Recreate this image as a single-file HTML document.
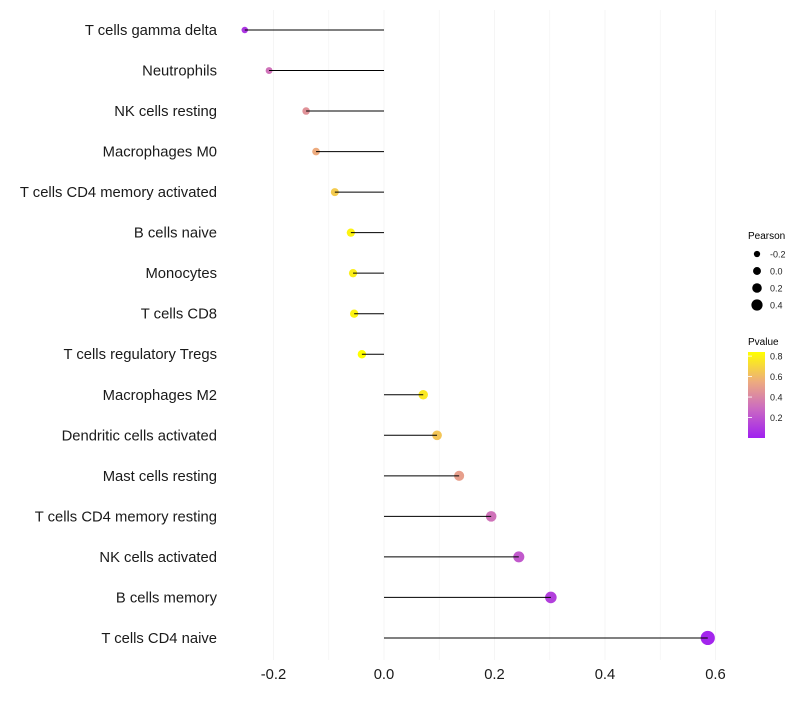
<!DOCTYPE html>
<html><head><meta charset="utf-8"><style>
body{margin:0;background:#fff;font-family:"Liberation Sans",sans-serif}
</style></head><body>
<svg id="c" width="800" height="700" xmlns="http://www.w3.org/2000/svg" font-family="Liberation Sans, sans-serif">
<defs><linearGradient id="pg" x1="0" y1="1" x2="0" y2="0">
<stop offset="0" stop-color="#A020F0"/><stop offset="0.35" stop-color="#CC6CC0"/><stop offset="0.65" stop-color="#EDAA80"/><stop offset="1" stop-color="#FFFF00"/></linearGradient></defs>
<g id="grid"></g>
<g id="marks"></g>
<g id="ylab"></g>
<g id="xlab"></g>
<g>
<text x="748" y="239" font-size="10">Pearson</text>
<g id="sizeleg"></g>
</g>
<g>
<text x="748" y="345" font-size="10">Pvalue</text>
<rect x="748" y="352" width="17" height="86" fill="url(#pg)"/>
<g id="colleg"></g>
</g>
</svg>
<script>
const categories=["T cells gamma delta","Neutrophils","NK cells resting","Macrophages M0","T cells CD4 memory activated","B cells naive","Monocytes","T cells CD8","T cells regulatory  Tregs","Macrophages M2","Dendritic cells activated","Mast cells resting","T cells CD4 memory resting","NK cells activated","B cells memory","T cells CD4 naive"];
const pearson=[-0.252,-0.208,-0.141,-0.123,-0.089,-0.060,-0.056,-0.054,-0.040,0.071,0.096,0.136,0.194,0.244,0.302,0.586];
const pvalue=[0.08,0.32,0.45,0.55,0.66,0.80,0.78,0.80,0.85,0.76,0.64,0.50,0.32,0.22,0.12,0.02];
const xTicks=[-0.2,0,0.2,0.4,0.6];
const xTickLabels=["-0.2","0.0","0.2","0.4","0.6"];
const sizeLegend=[-0.2,0.0,0.2,0.4];
const colorLegend=[0.2,0.4,0.6,0.8];
const NS="http://www.w3.org/2000/svg";
const x=v=>384+v*552.5;
const y=i=>30+i*40.53;
const r=v=>4.4+4.6*v;
const pMin=0.0,pMax=0.84;
const stops=[[0,[160,32,240]],[0.35,[204,108,192]],[0.65,[237,170,128]],[1,[255,255,0]]];
function col(p){let t=Math.max(0,Math.min(1,(p-pMin)/(pMax-pMin)));for(let k=1;k<stops.length;k++){if(t<=stops[k][0]){const a=stops[k-1],b=stops[k];const u=(t-a[0])/(b[0]-a[0]);const c=a[1].map((q,j)=>Math.round(q+(b[1][j]-q)*u));return `rgb(${c})`;}}return "rgb(255,255,0)";}
function mk(tag,at,parent){const e=document.createElementNS(NS,tag);for(const k in at)e.setAttribute(k,at[k]);document.getElementById(parent).appendChild(e);return e;}
for(let v=-0.2;v<=0.61;v+=0.1){const g=mk("line",{x1:x(v),x2:x(v),y1:10,y2:660,stroke:"#f3f3f3","stroke-width":0.8},"grid");

}
categories.forEach((c,i)=>{
const p=mk("circle",{cx:x(pearson[i]),cy:y(i),r:r(pearson[i]),fill:col(pvalue[i])},"marks");


const s=mk("line",{x1:x(0),x2:x(pearson[i]),y1:y(i),y2:y(i),stroke:"#000","stroke-width":1},"marks");


const t=mk("text",{x:217,y:y(i)+5,"text-anchor":"end","font-size":14.8,fill:"#1a1a1a"},"ylab");t.textContent=c;


});
xTicks.forEach((v,i)=>{const t=mk("text",{x:x(v),y:679,"text-anchor":"middle","font-size":14.8,fill:"#1a1a1a"},"xlab");t.textContent=xTickLabels[i];

});
sizeLegend.forEach((v,i)=>{const cy=254+i*17;
const c=mk("circle",{cx:757,cy:cy,r:r(v)*0.9,fill:"#000"},"sizeleg");


const t=mk("text",{x:770,y:cy+3.5,"font-size":9,fill:"#222"},"sizeleg");t.textContent=v.toFixed(1);

});
colorLegend.forEach(v=>{const yy=438-(v-pMin)/(pMax-pMin)*86;
const l=mk("line",{x1:748,x2:752,y1:yy,y2:yy,stroke:"#fff","stroke-width":0.8},"colleg");


const t=mk("text",{x:770,y:yy+3.5,"font-size":9,fill:"#222"},"colleg");t.textContent=v.toFixed(1);

});
</script>
</body></html>
